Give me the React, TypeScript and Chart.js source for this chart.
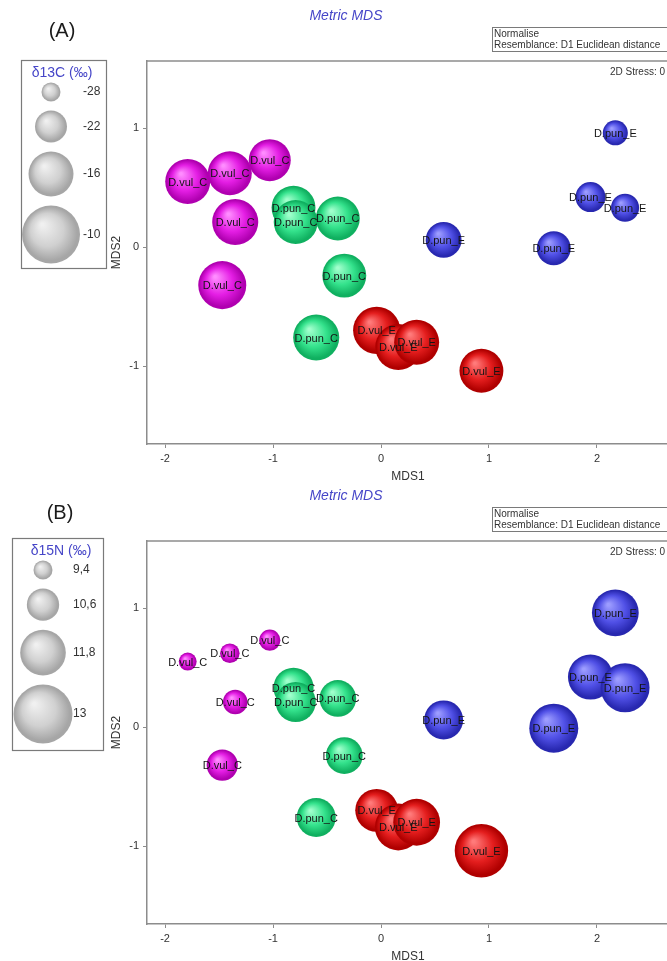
import React, { useEffect, useRef } from "react";
import { Chart, registerables } from "chart.js";

Chart.register(...registerables);

const FONT = "'Liberation Sans', Arial, Helvetica, sans-serif";

// ---- MDS coordinates (same ordination in both panels) ----
const vulCx = [-1.79, -1.4, -1.03, -1.35, -1.47];
const vulCy = [0.55, 0.62, 0.73, 0.21, -0.32];
const punCx = [-0.81, -0.79, -0.4, -0.34, -0.6];
const punCy = [0.33, 0.21, 0.24, -0.24, -0.76];
const vulEx = [-0.04, 0.16, 0.33, 0.93];
const vulEy = [-0.7, -0.84, -0.8, -1.04];
const punEx = [2.17, 1.94, 2.26, 1.6, 0.58];
const punEy = [0.96, 0.42, 0.33, -0.01, 0.06];

// ---- bubble variable, panel A: d13C (per mil) ----
const vulC13 = [-16.0, -16.5, -17.4, -15.5, -14.6];
const punC13 = [-16.5, -16.5, -16.5, -16.5, -15.5];
const vulE13 = [-15.0, -15.5, -16.0, -16.5];
const punE13 = [-25.2, -22.9, -23.8, -21.1, -20.2];

// ---- bubble variable, panel B: d15N (per mil) ----
const vulC15 = [9.3, 9.45, 9.6, 9.9, 10.5];
const punC15 = [11.3, 11.3, 11.0, 11.0, 11.2];
const vulE15 = [11.55, 11.9, 11.9, 12.5];
const punE15 = [11.9, 11.75, 12.1, 12.1, 11.2];

// ---- labels ----
const vulCLabels = ["D.vul_C", "D.vul_C", "D.vul_C", "D.vul_C", "D.vul_C"];
const punCLabels = ["D.pun_C", "D.pun_C", "D.pun_C", "D.pun_C", "D.pun_C"];
const vulELabels = ["D.vul_E", "D.vul_E", "D.vul_E", "D.vul_E"];
const punELabels = ["D.pun_E", "D.pun_E", "D.pun_E", "D.pun_E", "D.pun_E"];

const legend13 = [-28, -22, -16, -10];
const legend13Labels = ["-28", "-22", "-16", "-10"];
const legend15 = [9.4, 10.6, 11.8, 13];
const legend15Labels = ["9,4", "10,6", "11,8", "13"];

const xTicks = [-2, -1, 0, 1, 2];
const yTicks = [-1, 0, 1];

const X_MIN = -2.167;
const X_MAX = 2.667;
const Y_MIN = -1.655;
const Y_MAX = 1.563;

type Shade = { light: string; base: string; dark: string };
const MAGENTA: Shade = { light: "#ff8cff", base: "#e41ee4", dark: "#b000b0" };
const GREEN: Shade = { light: "#a0ffcc", base: "#34e28c", dark: "#10b060" };
const RED: Shade = { light: "#ff7a7a", base: "#e41e1e", dark: "#b00000" };
const BLUE: Shade = { light: "#9c9cff", base: "#5050e6", dark: "#2828b0" };
const GREY: Shade = { light: "#f0f0f0", base: "#d0d0d0", dark: "#a6a6a6" };

function sphere(ctx: CanvasRenderingContext2D, x: number, y: number, r: number, s: Shade) {
  if (!isFinite(x) || !isFinite(y) || !isFinite(r) || r <= 0) return s.base as any;
  const g = ctx.createRadialGradient(x - r * 0.3, y - r * 0.35, r * 0.05, x, y, r);
  g.addColorStop(0, s.light);
  g.addColorStop(0.55, s.base);
  g.addColorStop(0.92, s.dark);
  g.addColorStop(1, s.dark);
  return g;
}

type PanelSpec = {
  letter: string;
  legendTitle: string;
  legendVals: number[];
  legendLabels: string[];
  vals: { vulC: number[]; punC: number[]; vulE: number[]; punE: number[] };
  rMin: number;
  rMax: number;
  box: { l: number; t: number; r: number; b: number; cx: number; tx: number; lx: number };
  letterPos: { x: number; y: number };
};

function Panel({ spec, top }: { spec: PanelSpec; top: number }) {
  const ref = useRef<HTMLCanvasElement | null>(null);
  useEffect(() => {
    const canvas = ref.current;
    if (!canvas) return;
    const lo = spec.legendVals[0];
    const hi = spec.legendVals[spec.legendVals.length - 1];
    const rad = (v: number) => spec.rMin + ((v - lo) / (hi - lo)) * (spec.rMax - spec.rMin);

    const series = [
      { xs: vulCx, ys: vulCy, v: spec.vals.vulC, labels: vulCLabels, shade: MAGENTA },
      { xs: punCx, ys: punCy, v: spec.vals.punC, labels: punCLabels, shade: GREEN },
      { xs: vulEx, ys: vulEy, v: spec.vals.vulE, labels: vulELabels, shade: RED },
      { xs: punEx, ys: punEy, v: spec.vals.punE, labels: punELabels, shade: BLUE },
    ];

    const datasets = series.map((s) => ({
      data: s.xs.map((x, i) => ({ x, y: s.ys[i], r: rad(s.v[i]) })),
      pointLabels: s.labels,
      shade: s.shade,
      borderWidth: 0,
      hoverBorderWidth: 0,
      backgroundColor: s.shade.base,
    }));

    const shadePlugin = {
      id: "sphereShade",
      beforeDatasetsDraw(chart: any) {
        const ctx = chart.ctx as CanvasRenderingContext2D;
        chart.data.datasets.forEach((ds: any, i: number) => {
          const meta = chart.getDatasetMeta(i);
          meta.data.forEach((el: any) => {
            const r = el.options.radius;
            el.options = Object.assign({}, el.options, {
              backgroundColor: sphere(ctx, el.x, el.y, r, ds.shade),
            });
          });
        });
      },
    };

    const labelPlugin = {
      id: "pointLabels",
      afterDatasetsDraw(chart: any) {
        const ctx = chart.ctx as CanvasRenderingContext2D;
        ctx.save();
        ctx.font = `11px ${FONT}`;
        ctx.fillStyle = "#141414";
        ctx.textAlign = "center";
        ctx.textBaseline = "middle";
        chart.data.datasets.forEach((ds: any, i: number) => {
          const meta = chart.getDatasetMeta(i);
          meta.data.forEach((el: any, j: number) => {
            ctx.fillText(ds.pointLabels[j], el.x, el.y + 1);
          });
        });
        ctx.restore();
      },
    };

    const decorPlugin = {
      id: "decor",
      afterDraw(chart: any) {
        const ctx = chart.ctx as CanvasRenderingContext2D;
        const a = chart.chartArea;
        ctx.save();
        // top frame line
        ctx.strokeStyle = "#8c8c8c";
        ctx.lineWidth = 1.5;
        ctx.beginPath();
        ctx.moveTo(a.left, a.top);
        ctx.lineTo(a.right + 2, a.top);
        ctx.stroke();

        // panel letter
        ctx.fillStyle = "#1a1a1a";
        ctx.font = `20px ${FONT}`;
        ctx.textAlign = "center";
        ctx.textBaseline = "middle";
        ctx.fillText(spec.letter, spec.letterPos.x, spec.letterPos.y);

        // title
        ctx.fillStyle = "#4646c8";
        ctx.font = `italic 14px ${FONT}`;
        ctx.fillText("Metric MDS", 346, 16);

        // info box
        ctx.strokeStyle = "#7a7a7a";
        ctx.lineWidth = 1;
        ctx.strokeRect(492.5, 27.5, 300, 24);
        ctx.fillStyle = "#333";
        ctx.font = `10px ${FONT}`;
        ctx.textAlign = "left";
        ctx.fillText("Normalise", 494, 34);
        ctx.fillText("Resemblance: D1 Euclidean distance", 494, 45);

        // stress
        ctx.textAlign = "right";
        ctx.fillText("2D Stress: 0", 665, 72);

        // legend box
        const b = spec.box;
        ctx.strokeStyle = "#7a7a7a";
        ctx.lineWidth = 1.2;
        ctx.strokeRect(b.l + 0.5, b.t + 0.5, b.r - b.l, b.b - b.t);
        ctx.fillStyle = "#4646c8";
        ctx.font = `14px ${FONT}`;
        ctx.textAlign = "center";
        ctx.fillText(spec.legendTitle, b.tx, b.t + 13);

        let y = b.t + 32;
        let prevR = 0;
        spec.legendVals.forEach((v, i) => {
          const r = rad(v);
          if (i > 0) y += prevR + r + 9;
          ctx.beginPath();
          ctx.fillStyle = sphere(ctx, b.cx, y, r, GREY);
          ctx.arc(b.cx, y, r, 0, Math.PI * 2);
          ctx.fill();
          ctx.fillStyle = "#333";
          ctx.font = `12px ${FONT}`;
          ctx.textAlign = "left";
          ctx.fillText(spec.legendLabels[i], b.lx, y);
          prevR = r;
        });
        ctx.restore();
      },
    };

    const tickFont = { family: FONT, size: 11 };
    const titleFont = { family: FONT, size: 12 };
    const chart = new Chart(canvas, {
      type: "bubble",
      data: { datasets: datasets as any },
      plugins: [shadePlugin, labelPlugin, decorPlugin],
      options: {
        animation: false,
        responsive: false,
        events: [],
        layout: { padding: { left: 106, top: 61, right: 32, bottom: 6 } },
        plugins: { legend: { display: false }, tooltip: { enabled: false }, title: { display: false } },
        scales: {
          x: {
            type: "linear",
            min: X_MIN,
            max: X_MAX,
            afterBuildTicks: (s: any) => {
              s.ticks = xTicks.map((v) => ({ value: v }));
            },
            afterFit: (s: any) => {
              s.height = 40;
            },
            ticks: { font: tickFont, color: "#333", padding: 4, callback: (v: any) => String(v) },
            grid: { display: true, drawOnChartArea: false, drawTicks: true, tickLength: 4, color: "#8c8c8c" },
            border: { display: true, color: "#8c8c8c", width: 1.5 },
            title: { display: true, text: "MDS1", font: titleFont, color: "#333", padding: { top: 0, bottom: 0 } },
          },
          y: {
            type: "linear",
            min: Y_MIN,
            max: Y_MAX,
            afterBuildTicks: (s: any) => {
              s.ticks = yTicks.map((v) => ({ value: v }));
            },
            afterFit: (s: any) => {
              s.width = 41;
            },
            ticks: { font: tickFont, color: "#333", padding: 4, callback: (v: any) => String(v) },
            grid: { display: true, drawOnChartArea: false, drawTicks: true, tickLength: 4, color: "#8c8c8c" },
            border: { display: true, color: "#8c8c8c", width: 1.5 },
            title: { display: true, text: "MDS2", font: titleFont, color: "#333", padding: { top: 3, bottom: 0 } },
          },
        },
      } as any,
    });
    return () => chart.destroy();
  }, [spec]);

  return (
    <canvas
      ref={ref}
      width={701}
      height={490}
      style={{ position: "absolute", left: 0, top, width: 701, height: 490 }}
    />
  );
}

const specA: PanelSpec = {
  letter: "(A)",
  legendTitle: "\u03b413C (\u2030)",
  legendVals: legend13,
  legendLabels: legend13Labels,
  vals: { vulC: vulC13, punC: punC13, vulE: vulE13, punE: punE13 },
  rMin: 9.5,
  rMax: 29,
  box: { l: 21, t: 60, r: 106, b: 268, cx: 51, tx: 62, lx: 83 },
  letterPos: { x: 62, y: 31 },
};

const specB: PanelSpec = {
  letter: "(B)",
  legendTitle: "\u03b415N (\u2030)",
  legendVals: legend15,
  legendLabels: legend15Labels,
  vals: { vulC: vulC15, punC: punC15, vulE: vulE15, punE: punE15 },
  rMin: 9.5,
  rMax: 29.5,
  box: { l: 12, t: 58, r: 103, b: 270, cx: 43, tx: 61, lx: 73 },
  letterPos: { x: 60, y: 33 },
};

export default function App() {
  return (
    <div
      style={{
        position: "absolute",
        left: 0,
        top: 0,
        width: 667,
        height: 961,
        overflow: "hidden",
        background: "#ffffff",
      }}
    >
      <Panel spec={specA} top={0} />
      <Panel spec={specB} top={480} />
    </div>
  );
}
